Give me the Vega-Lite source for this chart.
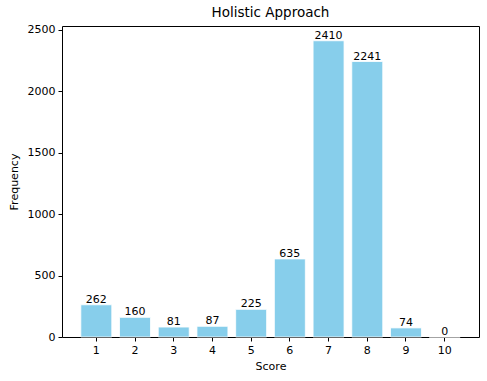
{
  "$schema": "https://vega.github.io/schema/vega-lite/v6.json",
  "autosize": {"type": "none"},
  "width": 417,
  "height": 311,
  "padding": {"left": 62, "top": 26, "right": 8, "bottom": 44},
  "background": "white",
  "config": {
    "font": "DejaVu Sans",
    "view": {"stroke": "black", "strokeWidth": 1},
    "axis": {
      "grid": false,
      "domain": false,
      "tickColor": "black",
      "tickSize": 4,
      "labelFont": "DejaVu Sans",
      "labelFontSize": 11,
      "labelColor": "black",
      "titleFont": "DejaVu Sans",
      "titleFontSize": 11,
      "titleFontWeight": "normal",
      "titleColor": "black"
    },
    "title": {"font": "DejaVu Sans", "fontSize": 13.5, "fontWeight": "normal", "color": "black"}
  },
  "title": {"text": "Holistic Approach", "offset": 4},
  "data": {
    "values": [
      {"score": "1", "freq": 262},
      {"score": "2", "freq": 160},
      {"score": "3", "freq": 81},
      {"score": "4", "freq": 87},
      {"score": "5", "freq": 225},
      {"score": "6", "freq": 635},
      {"score": "7", "freq": 2410},
      {"score": "8", "freq": 2241},
      {"score": "9", "freq": 74},
      {"score": "10", "freq": 0}
    ]
  },
  "encoding": {
    "x": {
      "field": "score",
      "type": "ordinal",
      "sort": null,
      "scale": {"paddingInner": 0.2, "paddingOuter": 0.486},
      "axis": {"title": "Score", "labelAngle": 0, "labelPadding": 3, "titlePadding": 5}
    },
    "y": {
      "field": "freq",
      "type": "quantitative",
      "scale": {"domain": [0, 2530], "nice": false},
      "axis": {"title": "Frequency", "format": "d", "values": [0, 500, 1000, 1500, 2000, 2500], "labelPadding": 3, "titlePadding": 8}
    }
  },
  "layer": [
    {"mark": {"type": "bar", "color": "#87CEEB", "stroke": "white", "strokeWidth": 0.8}},
    {
      "mark": {"type": "text", "baseline": "bottom", "fontSize": 11, "color": "black", "dy": 0},
      "encoding": {"text": {"field": "freq", "type": "quantitative", "format": "d"}}
    }
  ]
}
